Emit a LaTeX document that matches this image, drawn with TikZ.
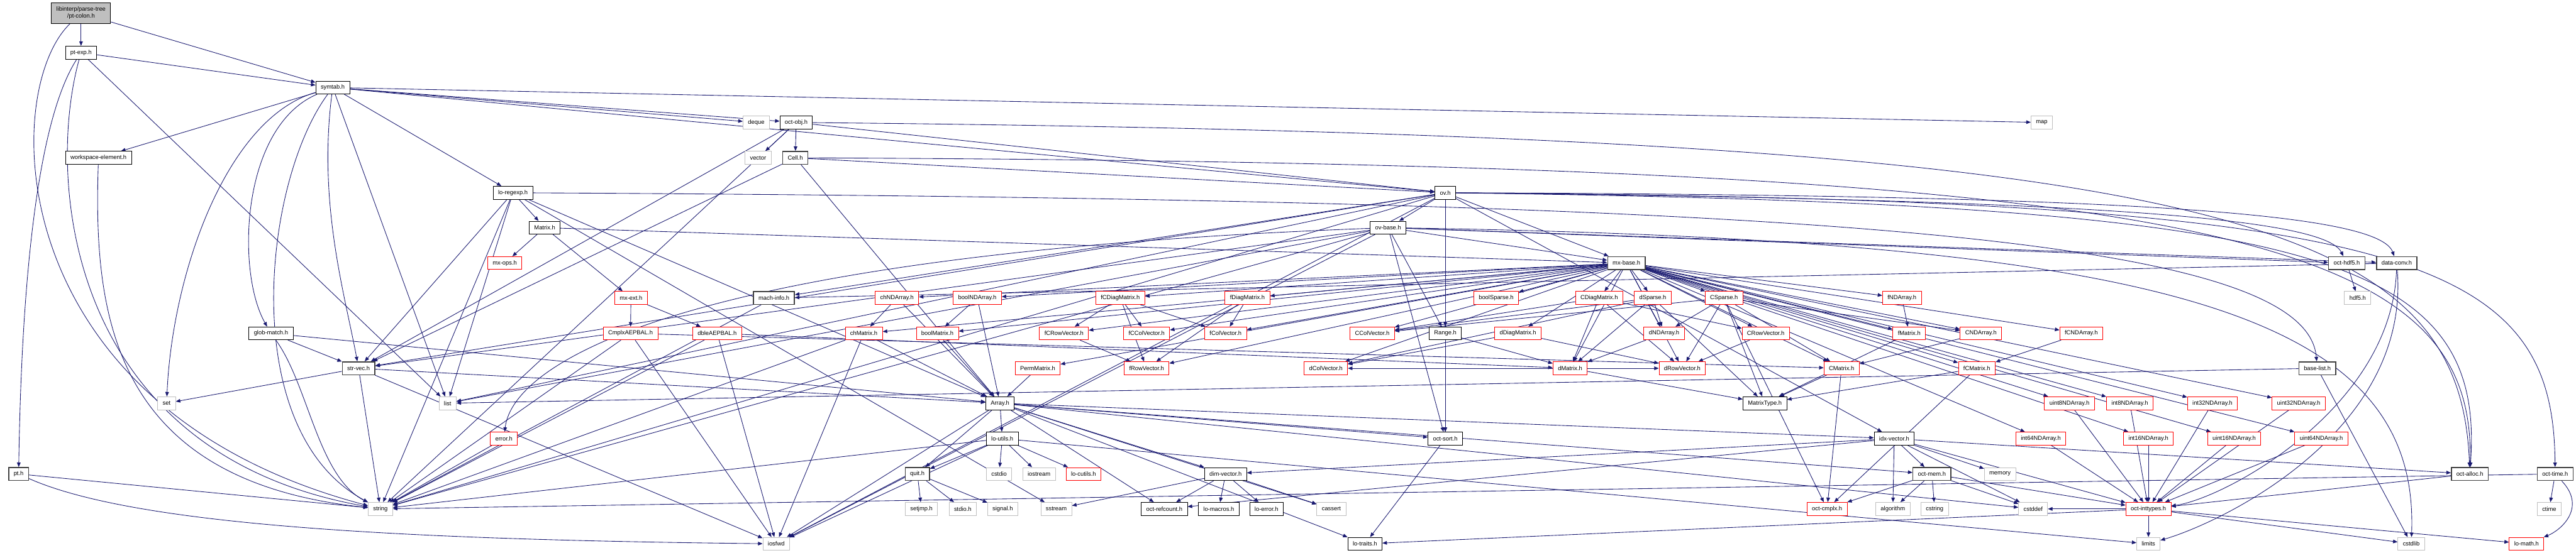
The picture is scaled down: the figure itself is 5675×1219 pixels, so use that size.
\documentclass[tikz,border=0pt]{standalone}
\usepackage{fontspec}
\setmainfont{Liberation Sans}
\usetikzlibrary{arrows.meta}
\pgfdeclarelayer{background}
\pgfsetlayers{background,main}

\definecolor{depblue}{RGB}{25,25,112}
\definecolor{sysgray}{RGB}{191,191,191}
\definecolor{cutred}{RGB}{255,0,0}

\tikzset{every picture/.style={line width=0.6pt}}
\tikzset{
  hdr/.style={draw=black, fill=white, text=black, font=\fontsize{6.5}{7.8}\selectfont, inner xsep=5.5pt, inner ysep=0pt, minimum height=14.25pt},
  hdrb/.style={hdr, draw=black!75, line width=1pt},
  syshdr/.style={hdr, draw=sysgray},
  cuthdr/.style={hdr, draw=cutred},
  roothdr/.style={hdr, fill=sysgray, align=center, minimum height=22.5pt},
  dep/.style={draw=depblue, line width=0.6pt, -{Triangle[length=5pt,width=4pt]}}
}

\begin{document}
\begin{tikzpicture}[x=0.5pt,y=0.5pt,yscale=-1,xscale=1]
%set diagram left start at 0, and has height of 1219
\useasboundingbox (0,0) rectangle (5675,1219);

% Text Node: parse tree
\draw (178.5,29) node [roothdr] (ptcolon) {libinterp/parse-tree\\/pt-colon.h};
\draw (178.5,116) node [hdr] (ptexp) {pt-exp.h};
\draw (733,193) node [hdr] (symtab) {symtab.h};
% Text Node: row 3-4
\draw (1666,270) node [syshdr] (deque) {deque};
\draw (1754,270) node [hdr] (octobj) {oct-obj.h};
\draw (4498,270) node [syshdr] (mapn) {map};
\draw (217,348) node [hdr] (wselem) {workspace-element.h};
\draw (1670,348) node [syshdr] (vectorn) {vector};
\draw (1752,348) node [hdrb] (cell) {Cell.h};
% Text Node: row 5-7
\draw (1130,425) node [hdr] (loregexp) {lo-regexp.h};
\draw (3184,425) node [hdr] (ov) {ov.h};
\draw (1200,502) node [hdr] (matrixh) {Matrix.h};
\draw (3058,502) node [hdr] (ovbase) {ov-base.h};
\draw (1112,580) node [cuthdr] (mxops) {mx-ops.h};
\draw (3583,580) node [hdrb] (mxbase) {mx-base.h};
\draw (5170,580) node [hdrb] (octhdf) {oct-hdf5.h};
\draw (5280,580) node [hdrb] (dataconv) {data-conv.h};
% Text Node: row 8
\draw (1390,657) node [cuthdr] (mxext) {mx-ext.h};
\draw (1705,657) node [hdrb] (machinfo) {mach-info.h};
\draw (1976,657) node [cuthdr] (chnd) {chNDArray.h};
\draw (2153,657) node [cuthdr] (boolnd) {boolNDArray.h};
\draw (2468,657) node [cuthdr] (fcdiag) {fCDiagMatrix.h};
\draw (2748,657) node [cuthdr] (fdiag) {fDiagMatrix.h};
\draw (3296,657) node [cuthdr] (boolsparse) {boolSparse.h};
\draw (3523,657) node [cuthdr] (cdiag) {CDiagMatrix.h};
\draw (3641,657) node [cuthdr] (dsparse) {dSparse.h};
\draw (3798,657) node [cuthdr] (csparse) {CSparse.h};
\draw (4190,657) node [cuthdr] (fnd) {fNDArray.h};
\draw (5194,657) node [syshdr] (hdfh) {hdf5.h};
% Text Node: row 9
\draw (597,735) node [hdr] (globmatch) {glob-match.h};
\draw (1389,735) node [cuthdr] (cmplxaep) {CmplxAEPBAL.h};
\draw (1580,735) node [cuthdr] (dbleaep) {dbleAEPBAL.h};
\draw (1903,735) node [cuthdr] (chmat) {chMatrix.h};
\draw (2065,735) node [cuthdr] (boolmat) {boolMatrix.h};
\draw (2344,735) node [cuthdr] (fcrow) {fCRowVector.h};
\draw (2526,735) node [cuthdr] (fccol) {fCColVector.h};
\draw (2700,735) node [cuthdr] (fcol) {fColVector.h};
\draw (3023,735) node [cuthdr] (ccol) {CColVector.h};
\draw (3184,735) node [hdr] (range) {Range.h};
\draw (3344,735) node [cuthdr] (ddiag) {dDiagMatrix.h};
\draw (3666,735) node [cuthdr] (dnd) {dNDArray.h};
\draw (3890,735) node [cuthdr] (crow) {CRowVector.h};
\draw (4206,735) node [cuthdr] (fmat) {fMatrix.h};
\draw (4364,735) node [cuthdr] (cnd) {CNDArray.h};
\draw (4585,735) node [cuthdr] (fcnd) {fCNDArray.h};
% Text Node: row 10
\draw (790,812) node [hdrb] (strvec) {str-vec.h};
\draw (2286,812) node [cuthdr] (perm) {PermMatrix.h};
\draw (2526,812) node [cuthdr] (frow) {fRowVector.h};
\draw (2921,812) node [cuthdr] (dcol) {dColVector.h};
\draw (3459,812) node [cuthdr] (dmat) {dMatrix.h};
\draw (3706,812) node [cuthdr] (drow) {dRowVector.h};
\draw (4057,812) node [cuthdr] (cmat) {CMatrix.h};
\draw (4355,812) node [cuthdr] (fcmat) {fCMatrix.h};
\draw (5105,812) node [hdrb] (baselist) {base-list.h};
% Text Node: row 11
\draw (367,889) node [syshdr] (setn) {set};
\draw (986,889) node [syshdr] (listn) {list};
\draw (2203,889) node [hdr] (array) {Array.h};
\draw (3888,889) node [hdr] (mtype) {MatrixType.h};
\draw (4559,889) node [cuthdr] (u8nd) {uint8NDArray.h};
\draw (4692,889) node [cuthdr] (i8nd) {int8NDArray.h};
\draw (4874,889) node [cuthdr] (i32nd) {int32NDArray.h};
\draw (5064,889) node [cuthdr] (u32nd) {uint32NDArray.h};
% Text Node: row 12
\draw (1110,967) node [cuthdr] (errorh) {error.h};
\draw (2208,967) node [hdr] (loutils) {lo-utils.h};
\draw (3184,967) node [hdr] (octsort) {oct-sort.h};
\draw (4173,967) node [hdr] (idxvec) {idx-vector.h};
\draw (4496,967) node [cuthdr] (i64nd) {int64NDArray.h};
\draw (4733,967) node [cuthdr] (i16nd) {int16NDArray.h};
\draw (4922,967) node [cuthdr] (u16nd) {uint16NDArray.h};
\draw (5114,967) node [cuthdr] (u64nd) {uint64NDArray.h};
% Text Node: row 13
\draw (41,1045) node [hdrb] (pth) {pt.h};
\draw (2021,1045) node [hdrb] (quit) {quit.h};
\draw (2201,1045) node [syshdr] (cstdio) {cstdio};
\draw (2289,1045) node [syshdr] (iostream) {iostream};
\draw (2387,1045) node [cuthdr] (locutils) {lo-cutils.h};
\draw (2700,1045) node [hdr] (dimvec) {dim-vector.h};
\draw (4256,1045) node [hdrb] (octmem) {oct-mem.h};
\draw (4406,1045) node [syshdr] (memory) {memory};
\draw (5441,1045) node [hdrb] (octalloc) {oct-alloc.h};
\draw (5629,1045) node [hdrb] (octtime) {oct-time.h};
% Text Node: row 14
\draw (838,1122) node [syshdr] (stringn) {string};
\draw (2030,1122) node [syshdr] (setjmp) {setjmp.h};
\draw (2121,1122) node [syshdr] (stdioh) {stdio.h};
\draw (2209,1122) node [syshdr] (signalh) {signal.h};
\draw (2327,1122) node [syshdr] (sstream) {sstream};
\draw (2565,1122) node [hdr] (refcount) {oct-refcount.h};
\draw (2685,1122) node [hdr] (lomacros) {lo-macros.h};
\draw (2790,1122) node [hdr] (loerror) {lo-error.h};
\draw (2933,1122) node [syshdr] (cassert) {cassert};
\draw (4025,1122) node [cuthdr] (octcmplx) {oct-cmplx.h};
\draw (4170,1122) node [syshdr] (algorithm) {algorithm};
\draw (4262,1122) node [syshdr] (cstring) {cstring};
\draw (4479,1122) node [syshdr] (cstddef) {cstddef};
\draw (4733,1122) node [cuthdr] (inttypes) {oct-inttypes.h};
\draw (5616,1122) node [syshdr] (ctime) {ctime};
% Text Node: row 15
\draw (1710,1199) node [syshdr] (iosfwd) {iosfwd};
\draw (3007,1199) node [hdr] (lotraits) {lo-traits.h};
\draw (4733,1199) node [syshdr] (limits) {limits};
\draw (5312,1199) node [syshdr] (cstdlib) {cstdlib};
\draw (5566,1199) node [cuthdr] (lomath) {lo-math.h};

\begin{pgfonlayer}{background}
%Straight Lines: parse tree
\draw [dep] (ptcolon) -- (ptexp) ;
\draw [dep] (ptcolon) -- (symtab) ;
\draw [dep] (ptcolon) .. controls (0,200) and (0,900) .. (stringn) ;
\draw [dep] (ptexp) -- (symtab) ;
\draw [dep] (ptexp) .. controls (60,300) and (45,800) .. (pth) ;
\draw [dep] (ptexp) .. controls (100,400) and (150,1000) .. (stringn) ;
\draw [dep] (ptexp) -- (listn) ;
\draw [dep] (pth) -- (stringn) ;
\draw [dep] (pth) .. controls (300,1160) and (900,1190) .. (iosfwd) ;
\draw [dep] (wselem) .. controls (205,700) and (250,1060) .. (stringn) ;
%Straight Lines: symtab.h
\draw [dep] (symtab) -- (deque) ;
\draw [dep] (symtab) -- (octobj) ;
\draw [dep] (symtab) -- (mapn) ;
\draw [dep] (symtab) -- (wselem) ;
\draw [dep] (symtab) -- (loregexp) ;
\draw [dep] (symtab) -- (ov) ;
\draw [dep] (symtab) .. controls (530,280) and (520,600) .. (globmatch) ;
\draw [dep] (symtab) .. controls (700,450) and (760,650) .. (strvec) ;
\draw [dep] (symtab) .. controls (500,260) and (380,600) .. (setn) ;
\draw [dep] (symtab) .. controls (580,400) and (520,950) .. (stringn) ;
\draw [dep] (symtab) -- (listn) ;
%Straight Lines: oct-obj.h and Cell.h
\draw [dep] (octobj) -- (vectorn) ;
\draw [dep] (octobj) -- (cell) ;
\draw [dep] (octobj) -- (ov) ;
\draw [dep] (octobj) -- (strvec) ;
\draw [dep] (octobj) -- (stringn) ;
\draw [dep] (octobj) .. controls (4900,300) and (5420,480) .. (octalloc) ;
\draw [dep] (cell) -- (ov) ;
\draw [dep] (cell) -- (strvec) ;
\draw [dep] (cell) -- (array) ;
\draw [dep] (cell) .. controls (4900,360) and (5455,520) .. (octalloc) ;
%Straight Lines: lo-regexp.h and Matrix.h
\draw [dep] (loregexp) -- (matrixh) ;
\draw [dep] (loregexp) -- (listn) ;
\draw [dep] (loregexp) -- (stringn) ;
\draw [dep] (loregexp) -- (sstream) ;
\draw [dep] (loregexp) -- (array) ;
\draw [dep] (loregexp) -- (strvec) ;
\draw [dep] (loregexp) .. controls (4000,440) and (5080,520) .. (baselist) ;
\draw [dep] (matrixh) -- (mxops) ;
\draw [dep] (matrixh) -- (mxext) ;
\draw [dep] (matrixh) -- (mxbase) ;
\draw [dep] (mxext) -- (cmplxaep) ;
\draw [dep] (mxext) -- (dbleaep) ;
\draw [dep] (cmplxaep) -- (cmat) ;
\draw [dep] (cmplxaep) -- (stringn) ;
\draw [dep] (cmplxaep) -- (iosfwd) ;
\draw [dep] (dbleaep) -- (dmat) ;
\draw [dep] (dbleaep) -- (stringn) ;
\draw [dep] (dbleaep) -- (iosfwd) ;
%Straight Lines: ov.h and ov-base.h
\draw [dep] (ov) -- (ovbase) ;
\draw [dep] (ov) -- (mxbase) ;
\draw [dep] (ov) -- (range) ;
\draw [dep] (ov) -- (octsort) ;
\draw [dep] (ov) -- (idxvec) ;
\draw [dep] (ov) -- (machinfo) ;
\draw [dep] (ov) .. controls (4700,430) and (5240,470) .. (dataconv) ;
\draw [dep] (ov) .. controls (4600,440) and (5120,480) .. (octhdf) ;
\draw [dep] (ov) -- (strvec) ;
\draw [dep] (ov) -- (listn) ;
\draw [dep] (ov) -- (stringn) ;
\draw [dep] (ov) -- (iosfwd) ;
\draw [dep] (ov) .. controls (5300,440) and (5625,560) .. (octtime) ;
\draw [dep] (ov) .. controls (5100,450) and (5475,560) .. (octalloc) ;
\draw [dep] (ovbase) -- (range) ;
\draw [dep] (ovbase) -- (mxbase) ;
\draw [dep] (ovbase) -- (dataconv) ;
\draw [dep] (ovbase) -- (octhdf) ;
\draw [dep] (ovbase) .. controls (1500,560) and (1130,800) .. (errorh) ;
\draw [dep] (ovbase) -- (listn) ;
\draw [dep] (ovbase) -- (stringn) ;
\draw [dep] (ovbase) -- (iosfwd) ;
\draw [dep] (ovbase) -- (strvec) ;
\draw [dep] (ovbase) -- (octsort) ;
\draw [dep] (ovbase) .. controls (4800,530) and (5330,700) .. (cstdlib) ;
\draw [dep] (octhdf) -- (hdfh) ;
\draw [dep] (dataconv) -- (machinfo) ;
\draw [dep] (dataconv) .. controls (5270,900) and (4900,1100) .. (inttypes) ;
\draw [dep] (dataconv) .. controls (5310,950) and (4900,1150) .. (limits) ;
\draw [dep] (machinfo) -- (stringn) ;
%Straight Lines: mx-base.h
\draw [dep] (mxbase) -- (chnd) ;
\draw [dep] (mxbase) -- (boolnd) ;
\draw [dep] (mxbase) -- (fcdiag) ;
\draw [dep] (mxbase) -- (fdiag) ;
\draw [dep] (mxbase) -- (boolsparse) ;
\draw [dep] (mxbase) -- (cdiag) ;
\draw [dep] (mxbase) -- (dsparse) ;
\draw [dep] (mxbase) -- (csparse) ;
\draw [dep] (mxbase) -- (fnd) ;
\draw [dep] (mxbase) -- (chmat) ;
\draw [dep] (mxbase) -- (boolmat) ;
\draw [dep] (mxbase) -- (fcrow) ;
\draw [dep] (mxbase) -- (fccol) ;
\draw [dep] (mxbase) -- (fcol) ;
\draw [dep] (mxbase) -- (ccol) ;
\draw [dep] (mxbase) -- (ddiag) ;
\draw [dep] (mxbase) -- (dnd) ;
\draw [dep] (mxbase) -- (crow) ;
\draw [dep] (mxbase) -- (fmat) ;
\draw [dep] (mxbase) -- (cnd) ;
\draw [dep] (mxbase) -- (fcnd) ;
\draw [dep] (mxbase) -- (perm) ;
\draw [dep] (mxbase) -- (frow) ;
\draw [dep] (mxbase) -- (dcol) ;
\draw [dep] (mxbase) -- (dmat) ;
\draw [dep] (mxbase) -- (drow) ;
\draw [dep] (mxbase) -- (cmat) ;
\draw [dep] (mxbase) -- (fcmat) ;
\draw [dep] (mxbase) -- (u8nd) ;
\draw [dep] (mxbase) -- (i8nd) ;
\draw [dep] (mxbase) -- (i32nd) ;
\draw [dep] (mxbase) -- (u32nd) ;
\draw [dep] (mxbase) -- (i64nd) ;
\draw [dep] (mxbase) -- (i16nd) ;
\draw [dep] (mxbase) -- (u16nd) ;
\draw [dep] (mxbase) -- (u64nd) ;
%Straight Lines: matrix types
\draw [dep] (chnd) -- (chmat) ;
\draw [dep] (chnd) -- (array) ;
\draw [dep] (boolnd) -- (boolmat) ;
\draw [dep] (boolnd) -- (array) ;
\draw [dep] (fcdiag) -- (fcrow) ;
\draw [dep] (fcdiag) -- (fccol) ;
\draw [dep] (fcdiag) -- (fcol) ;
\draw [dep] (fcdiag) -- (frow) ;
\draw [dep] (fdiag) -- (fcol) ;
\draw [dep] (fdiag) -- (frow) ;
\draw [dep] (fcrow) -- (frow) ;
\draw [dep] (chmat) -- (array) ;
\draw [dep] (chmat) -- (stringn) ;
\draw [dep] (chmat) -- (iosfwd) ;
\draw [dep] (boolmat) -- (array) ;
\draw [dep] (perm) -- (array) ;
\draw [dep] (cdiag) -- (ccol) ;
\draw [dep] (cdiag) -- (crow) ;
\draw [dep] (cdiag) -- (drow) ;
\draw [dep] (cdiag) -- (dmat) ;
\draw [dep] (dsparse) -- (dnd) ;
\draw [dep] (dsparse) -- (dmat) ;
\draw [dep] (dsparse) -- (dcol) ;
\draw [dep] (dsparse) -- (ccol) ;
\draw [dep] (dsparse) -- (mtype) ;
\draw [dep] (csparse) -- (dnd) ;
\draw [dep] (csparse) -- (cnd) ;
\draw [dep] (csparse) -- (cmat) ;
\draw [dep] (csparse) -- (ccol) ;
\draw [dep] (csparse) -- (drow) ;
\draw [dep] (csparse) -- (mtype) ;
\draw [dep] (csparse) -- (octcmplx) ;
\draw [dep] (ddiag) -- (dcol) ;
\draw [dep] (ddiag) -- (drow) ;
\draw [dep] (dnd) -- (dmat) ;
\draw [dep] (range) -- (dmat) ;
\draw [dep] (range) -- (octsort) ;
\draw [dep] (fnd) -- (fmat) ;
\draw [dep] (fmat) -- (mtype) ;
\draw [dep] (cnd) -- (cmat) ;
\draw [dep] (fcnd) -- (fcmat) ;
\draw [dep] (crow) -- (drow) ;
\draw [dep] (cmat) -- (mtype) ;
\draw [dep] (cmat) -- (octcmplx) ;
\draw [dep] (fcmat) -- (mtype) ;
\draw [dep] (fcmat) -- (octcmplx) ;
\draw [dep] (dmat) -- (dcol) ;
\draw [dep] (dmat) -- (drow) ;
\draw [dep] (dmat) -- (mtype) ;
%Straight Lines: glob-match.h and str-vec.h
\draw [dep] (globmatch) -- (strvec) ;
\draw [dep] (globmatch) .. controls (680,850) and (700,1050) .. (stringn) ;
\draw [dep] (globmatch) -- (array) ;
\draw [dep] (strvec) -- (setn) ;
\draw [dep] (strvec) -- (stringn) ;
\draw [dep] (strvec) -- (array) ;
\draw [dep] (strvec) -- (iosfwd) ;
%Straight Lines: Array.h
\draw [dep] (array) -- (loutils) ;
\draw [dep] (array) -- (quit) ;
\draw [dep] (array) -- (dimvec) ;
\draw [dep] (array) -- (idxvec) ;
\draw [dep] (array) -- (octsort) ;
\draw [dep] (array) -- (lotraits) ;
\draw [dep] (array) -- (refcount) ;
\draw [dep] (array) -- (cassert) ;
\draw [dep] (array) -- (cstddef) ;
\draw [dep] (array) -- (iosfwd) ;
\draw [dep] (array) -- (octmem) ;
\draw [dep] (loutils) -- (quit) ;
\draw [dep] (loutils) -- (cstdio) ;
\draw [dep] (loutils) -- (iostream) ;
\draw [dep] (loutils) -- (locutils) ;
\draw [dep] (loutils) -- (stringn) ;
\draw [dep] (loutils) -- (iosfwd) ;
\draw [dep] (loutils) -- (limits) ;
\draw [dep] (quit) -- (setjmp) ;
\draw [dep] (quit) -- (stdioh) ;
\draw [dep] (quit) -- (signalh) ;
\draw [dep] (dimvec) -- (refcount) ;
\draw [dep] (dimvec) -- (lomacros) ;
\draw [dep] (dimvec) -- (loerror) ;
\draw [dep] (dimvec) -- (sstream) ;
\draw [dep] (dimvec) -- (cassert) ;
%Straight Lines: idx-vector.h and oct-mem.h
\draw [dep] (idxvec) -- (dimvec) ;
\draw [dep] (idxvec) -- (octmem) ;
\draw [dep] (idxvec) -- (memory) ;
\draw [dep] (idxvec) -- (algorithm) ;
\draw [dep] (idxvec) -- (cstddef) ;
\draw [dep] (idxvec) -- (inttypes) ;
\draw [dep] (idxvec) -- (octalloc) ;
\draw [dep] (idxvec) -- (refcount) ;
\draw [dep] (octsort) -- (lotraits) ;
\draw [dep] (octmem) -- (octcmplx) ;
\draw [dep] (octmem) -- (algorithm) ;
\draw [dep] (octmem) -- (cstring) ;
\draw [dep] (octmem) -- (cstddef) ;
\draw [dep] (octmem) -- (inttypes) ;
%Straight Lines: integer arrays
\draw [dep] (u8nd) -- (inttypes) ;
\draw [dep] (i8nd) -- (inttypes) ;
\draw [dep] (i16nd) -- (inttypes) ;
\draw [dep] (u16nd) -- (inttypes) ;
\draw [dep] (i32nd) -- (inttypes) ;
\draw [dep] (u32nd) -- (inttypes) ;
\draw [dep] (i64nd) -- (inttypes) ;
\draw [dep] (u64nd) -- (inttypes) ;
\draw [dep] (inttypes) -- (limits) ;
\draw [dep] (inttypes) -- (cstddef) ;
\draw [dep] (inttypes) -- (cstdlib) ;
\draw [dep] (inttypes) -- (lomath) ;
\draw [dep] (inttypes) -- (lotraits) ;
%Straight Lines: right side
\draw [dep] (octalloc) -- (inttypes) ;
\draw [dep] (octtime) -- (ctime) ;
\draw [dep] (octtime) .. controls (5700,1120) and (5640,1170) .. (lomath) ;
\draw [dep] (octtime) -- (stringn) ;
\draw [dep] (baselist) -- (cstdlib) ;
\draw [dep] (baselist) -- (listn) ;
\draw [dep] (errorh) -- (stringn) ;
\end{pgfonlayer}

\end{tikzpicture}
\end{document}
